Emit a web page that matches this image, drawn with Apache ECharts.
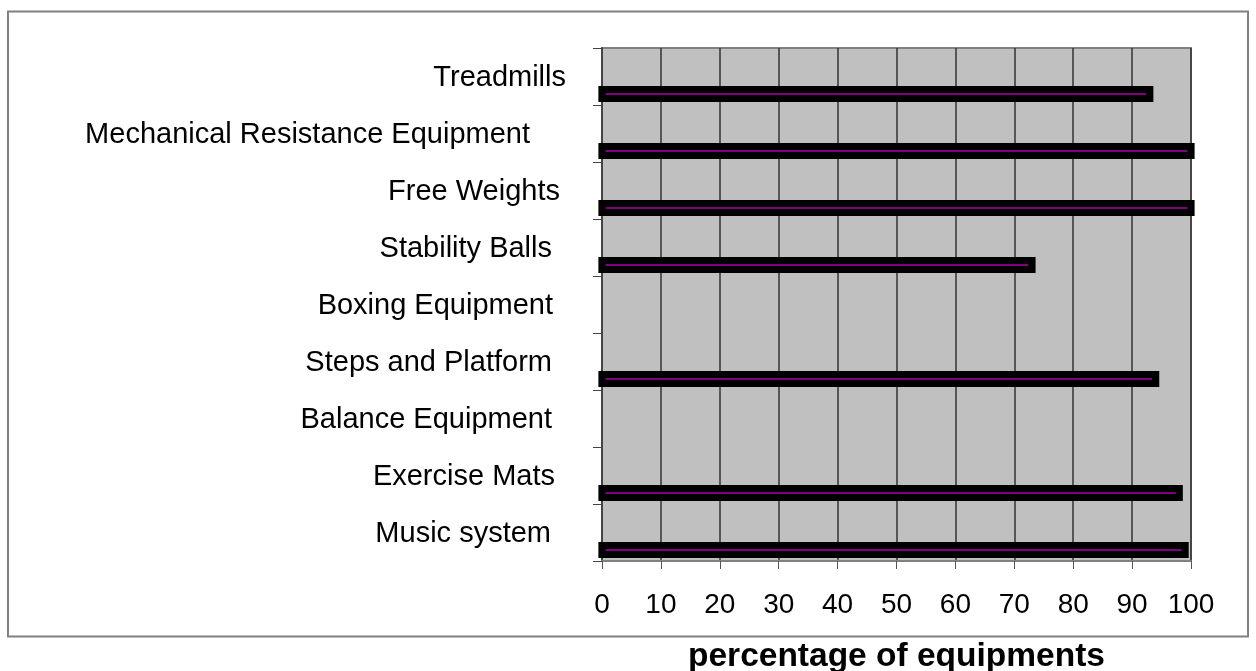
<!DOCTYPE html>
<html>
<head>
<meta charset="utf-8">
<title>Equipment availability</title>
<script src="https://cdn.jsdelivr.net/npm/echarts@6/dist/echarts.min.js"></script>
<style>
  html, body { margin: 0; padding: 0; background: #ffffff; }
  #chart { width: 1256px; height: 671px; }
</style>
</head>
<body>
<div id="chart"></div>
<script>
// Equipment types, listed top to bottom
const categories = [
  'Treadmills',
  'Mechanical Resistance Equipment',
  'Free Weights',
  'Stability Balls',
  'Boxing Equipment',
  'Steps and Platform',
  'Balance Equipment',
  'Exercise Mats',
  'Music system'
];

// Percentage of facilities that have each equipment type (null = no bar)
const percentages = [93, 100, 100, 73, null, 94, null, 98, 99];

// Value axis range and step
const axisMin = 0;
const axisMax = 100;
const axisStep = 10;

// Extra right-hand spacing for each category label
const labelPad = [0, 36, 6, 14, 13, 14, 14, 11, 15];

const FONT = '"Liberation Sans", Arial, sans-serif';

const rich = {};
labelPad.forEach((p, i) => {
  rich['p' + i] = {
    fontFamily: FONT,
    fontSize: 29,
    color: '#000',
    padding: [2, p, 0, 0]
  };
});

// [value, category index] pairs; categories without a value get no bar
const barData = [];
percentages.forEach((v, i) => {
  if (v !== null) barData.push([v, i]);
});

// Thin purple bar with a heavy black outline, sitting in the lower part of its band
function renderBar(params, api) {
  const idx = api.value(1);
  const start = api.coord([0, idx]);
  const end = api.coord([api.value(0), idx]);
  const band = api.size([0, 1])[1];
  const cy = start[1] + band * 0.307;
  const h = 9;
  return {
    type: 'rect',
    shape: { x: start[0], y: cy - h / 2, width: end[0] - start[0], height: h },
    style: { fill: '#800080', stroke: '#000000', lineWidth: 7.2 }
  };
}

const chart = echarts.init(document.getElementById('chart'), null, { renderer: 'canvas' });

chart.setOption({
  animation: false,
  backgroundColor: '#ffffff',
  grid: {
    left: 602,
    right: 65,
    top: 48,
    bottom: 110,
    containLabel: false,
    outerBoundsMode: 'none',
    show: true,
    backgroundColor: '#C0C0C0',
    borderColor: '#808080',
    borderWidth: 2
  },
  xAxis: {
    type: 'value',
    min: axisMin,
    max: axisMax,
    interval: axisStep,
    name: 'percentage of equipments',
    nameLocation: 'middle',
    nameGap: 79,
    nameTextStyle: {
      fontFamily: FONT,
      fontSize: 33.5,
      fontWeight: 'bold',
      color: '#000'
    },
    axisLine: { show: true, lineStyle: { color: '#808080', width: 2 } },
    axisTick: { show: true, length: 8, lineStyle: { color: '#555', width: 1 } },
    axisLabel: {
      fontFamily: FONT,
      fontSize: 28,
      color: '#000',
      margin: 30
    },
    splitLine: { show: true, lineStyle: { color: '#333', width: 1.5 } }
  },
  yAxis: {
    type: 'category',
    data: categories,
    inverse: true,
    axisLine: { show: true, lineStyle: { color: '#444', width: 2 } },
    axisTick: { show: true, length: 9, lineStyle: { color: '#444', width: 1 } },
    axisLabel: {
      margin: 36,
      formatter: (value, index) => '{p' + index + '|' + value + '}',
      rich: rich
    },
    splitLine: { show: false }
  },
  series: [
    {
      type: 'custom',
      data: barData,
      encode: { x: 0, y: 1 },
      renderItem: renderBar,
      clip: false,
      z: 3
    }
  ],
  graphic: [
    {
      type: 'rect',
      shape: { x: 8, y: 11.5, width: 1240, height: 625 },
      style: { fill: 'none', stroke: '#808080', lineWidth: 2 },
      silent: true,
      z: 100
    }
  ]
});
</script>
</body>
</html>
